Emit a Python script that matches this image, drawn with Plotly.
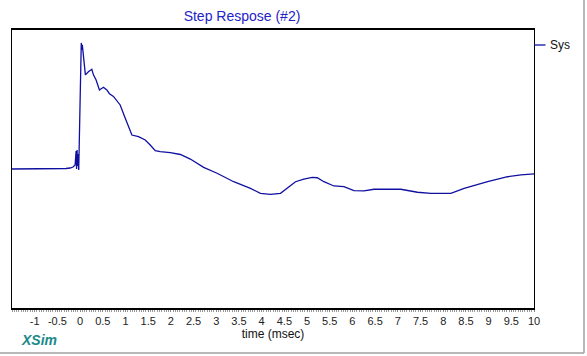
import plotly.graph_objects as go

title_text = "Step Respose (#2)"
x_title = "time (msec)"
series_name = "Sys"
brand = "XSim"

tick_vals = [-1, -0.5, 0, 0.5, 1, 1.5, 2, 2.5, 3, 3.5, 4, 4.5, 5, 5.5, 6, 6.5, 7, 7.5, 8, 8.5, 9, 9.5, 10]
tick_text = ["-1", "-0.5", "0", "0.5", "1", "1.5", "2", "2.5", "3", "3.5", "4", "4.5", "5", "5.5", "6", "6.5", "7", "7.5", "8", "8.5", "9", "9.5", "10"]

time_ms = [-1.5, -0.5, -0.44, -0.31, -0.22, -0.155, -0.11, -0.088, -0.077, -0.066, -0.055, -0.044,
           -0.03, -0.011, 0.011, 0.026, 0.038, 0.049, 0.073, 0.117, 0.183, 0.258, 0.294, 0.353,
           0.426, 0.514, 0.589, 0.647, 0.735, 0.883, 0.993, 1.066, 1.141, 1.287, 1.435, 1.545,
           1.656, 1.766, 1.987, 2.21, 2.428, 2.722, 3.018, 3.384, 3.753, 3.974, 4.194, 4.415,
           4.563, 4.746, 4.929, 5.115, 5.225, 5.371, 5.592, 5.812, 6.033, 6.254, 6.475, 7.064,
           7.433, 7.726, 8.168, 8.461, 8.978, 9.42, 9.713, 10.0]
response = [0.0, 0.0, 0.002, 0.005, 0.01, 0.02, 0.04, 0.18, 0.0, 0.19, 0.03, 0.15,
            -0.01, 0.4, 0.6, 1.27, 1.2, 1.25, 1.12, 0.948, 0.98, 1.005, 0.948, 0.896,
            0.796, 0.823, 0.796, 0.758, 0.731, 0.645, 0.514, 0.42, 0.342, 0.325, 0.292, 0.242,
            0.184, 0.174, 0.164, 0.146, 0.1, 0.017, -0.043, -0.128, -0.195, -0.245, -0.255, -0.245,
            -0.195, -0.128, -0.101, -0.084, -0.088, -0.128, -0.171, -0.178, -0.218, -0.221, -0.204, -0.204,
            -0.234, -0.245, -0.245, -0.195, -0.128, -0.078, -0.06, -0.05]

line_color = "#1010a0"

fig = go.Figure()
fig.add_trace(go.Scatter(x=time_ms, y=response, mode="lines", name=series_name,
                         line=dict(color=line_color, width=1.3), showlegend=False))

fig.update_layout(
    width=587, height=356,
    margin=dict(l=12, r=53, t=30, b=48),
    paper_bgcolor="white", plot_bgcolor="white",
    font=dict(family="Liberation Sans, Arial, sans-serif", size=11, color="#222"),
    title=dict(text=title_text, x=242/587, xanchor="center", y=1-16/356, yanchor="middle",
               font=dict(size=14, color="#2323c8", family="Liberation Sans, Arial, sans-serif")),
    xaxis=dict(range=[-1.5, 10], tickvals=tick_vals, ticktext=tick_text, showgrid=False, zeroline=False,
               showline=True, linecolor="black", linewidth=1.5, mirror=True,
               ticks="outside", ticklen=2, tickcolor="#888",
               minor=dict(ticks="outside", ticklen=2, dtick=0.05, tickcolor="#999"),
               tickfont=dict(size=11, color="#222"),
               title=dict(text=x_title, standoff=4, font=dict(size=12, color="#111"))),
    yaxis=dict(range=[-1.4, 1.4], showticklabels=False, ticks="", showgrid=False, zeroline=False,
               showline=True, linecolor="black", linewidth=1, mirror=True),
    shapes=[
        dict(type="line", xref="paper", yref="paper", x0=1.0, x1=1.022, y0=(308-45)/278, y1=(308-45)/278,
             line=dict(color=line_color, width=1.3)),
        dict(type="line", xref="paper", yref="paper", x0=-12/522, x1=(584-12)/522,
             y0=(308-353)/278, y1=(308-353)/278, line=dict(color="#a0a0a0", width=1.5)),
        dict(type="line", xref="paper", yref="paper", x0=(584-12)/522, x1=(584-12)/522,
             y0=(308-353)/278, y1=1.2, line=dict(color="#a0a0a0", width=1.5)),
    ],
    annotations=[
        dict(text=series_name, xref="paper", yref="paper", x=(548-12)/522, y=(308-45)/278,
             xanchor="left", yanchor="middle", showarrow=False, font=dict(size=12, color="#111")),
        dict(text="<b><i>" + brand + "</i></b>", xref="paper", yref="paper", x=(19-12)/522, y=(308-340)/278,
             xanchor="left", yanchor="middle", showarrow=False, font=dict(size=14, color="#1a8a8a")),
    ],
)

fig.write_html("out.html", config={"displayModeBar": False},
               post_script="document.body.style.margin='0';document.body.style.padding='0';")
